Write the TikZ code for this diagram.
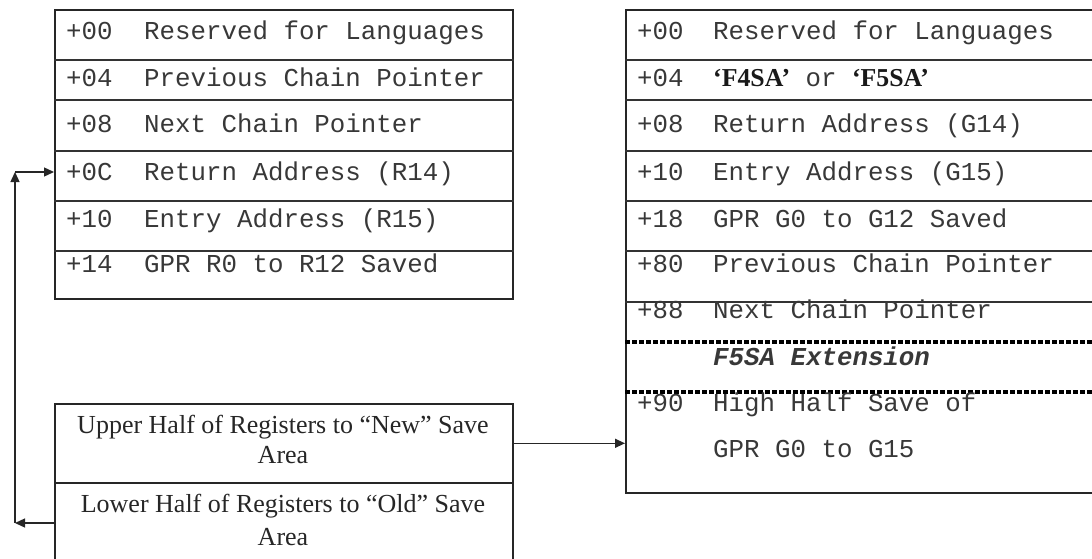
\documentclass[tikz,border=0pt]{standalone}
\usepackage{fontspec}
\setmainfont{Liberation Serif}
\setmonofont{Liberation Mono}
\usetikzlibrary{arrows.meta}
\begin{document}
\begin{tikzpicture}[x=1pt,y=-1pt,
  box/.style={draw=black!85, line width=1.6pt, rectangle, anchor=north west, inner sep=0pt},
  rowrule/.style={draw=black!80, line width=1.1pt},
  dotrule/.style={draw=black, line width=4.5pt, dash pattern=on 4.5pt off 2.5pt},
  mono/.style={anchor=base west, inner sep=0pt, font=\fontsize{25.8}{30}\selectfont\ttfamily, text=black!78},
  serif/.style={anchor=base, inner sep=0pt, font=\fontsize{26}{30}\selectfont\rmfamily, text=black!85},
  arr/.style={draw=black!85, line width=1.3pt, -{Triangle[length=10pt,width=9pt]}}]

\useasboundingbox (0,0) rectangle (1092,559);
\clip (0,0) rectangle (1092,559);

% ---- standard save area (left) ----
\node[box, minimum width=458pt, minimum height=289pt] (oldsa) at (54,9) {};
\foreach \y in {60,100,151,201,251}
  \draw[rowrule] (oldsa.west |- 0,\y) -- (oldsa.east |- 0,\y);
\foreach \n/\y/\off/\txt in {
    1/40/+00/Reserved for Languages,
    2/87/+04/Previous Chain Pointer,
    3/133/+08/Next Chain Pointer,
    4/180/+0C/Return Address (R14),
    5/227/+10/Entry Address (R15),
    6/272/+14/GPR R0 to R12 Saved} {
  \node[mono] (lo\n) at (66,\y) {\off};
  \node[mono] (lt\n) at (144,\y) {\txt};
}

% ---- F4SA / F5SA save area (right) ----
\node[box, minimum width=520pt, minimum height=483pt] (newsa) at (625,9) {};
\foreach \y in {60,100,151,201,251,302}
  \draw[rowrule] (newsa.west |- 0,\y) -- (newsa.east |- 0,\y);
\foreach \y in {342,392}
  \draw[dotrule] (newsa.west |- 0,\y) -- (newsa.east |- 0,\y);
\foreach \n/\y/\off/\txt in {
    1/40/+00/Reserved for Languages,
    3/133/+08/Return Address (G14),
    4/180/+10/Entry Address (G15),
    5/227/+18/GPR G0 to G12 Saved,
    6/272/+80/Previous Chain Pointer,
    7/318/+88/Next Chain Pointer,
    9/411/+90/High Half Save of} {
  \node[mono] (ro\n) at (637,\y) {\off};
  \node[mono] (rt\n) at (713,\y) {\txt};
}
\node[mono] (ro2) at (637,87) {+04};
\node[mono] (rt2) at (713,87)
  {{\rmfamily\bfseries\color{black!90}‘F4SA’} or {\rmfamily\bfseries\color{black!90}‘F5SA’}};
\node[mono] (rt8) at (713,365) {\bfseries\itshape F5SA Extension};
\node[mono] (rt10) at (713,457) {GPR G0 to G15};

% ---- register halves (bottom left) ----
\node[box, minimum width=458pt, minimum height=79pt] (upper) at (54,403) {};
\node[box, minimum width=458pt, minimum height=81pt] (lower) at (54,482) {};
\node[serif] (up1) at (283,433) {Upper Half of Registers to “New” Save};
\node[serif] (up2) at (283,463) {Area};
\node[serif] (lw1) at (283,512) {Lower Half of Registers to “Old” Save};
\node[serif] (lw2) at (283,545) {Area};

% ---- connectors ----
\draw[arr] (upper.east) -- (upper.east -| newsa.west);
\coordinate (low) at (15,523);
\coordinate (high) at (15,172);
\draw[arr] (lower.west |- low) -- (low);
\draw[arr] (low) -- (high);
\draw[arr] (high) -- (high -| oldsa.west);
\end{tikzpicture}
\end{document}
